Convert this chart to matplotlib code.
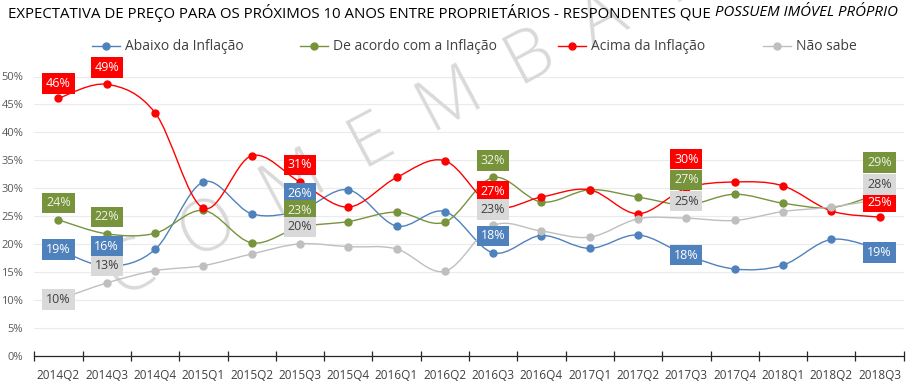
import matplotlib
matplotlib.use('Agg')
import matplotlib.pyplot as plt
from matplotlib import font_manager
from matplotlib.path import Path
from matplotlib.patches import PathPatch
from matplotlib.lines import Line2D
import numpy as np

# data (percent)
quarters = ['2014Q2', '2014Q3', '2014Q4', '2015Q1', '2015Q2', '2015Q3', '2015Q4',
            '2016Q1', '2016Q2', '2016Q3', '2016Q4', '2017Q1', '2017Q2', '2017Q3',
            '2017Q4', '2018Q1', '2018Q2', '2018Q3']
abaixo = [19, 16, 19.0, 31.1, 25.4, 26, 29.7, 23.2, 25.8, 18.4, 21.5, 19.2, 21.6, 18, 15.5, 16.2, 20.8, 19]
de_acordo = [24.3, 21.8, 21.9, 26.0, 20.2, 23, 24.0, 25.7, 23.9, 31.9, 27.5, 29.7, 28.4, 27, 28.9, 27.3, 26.5, 29]
acima = [46.1, 48.6, 43.5, 26.4, 35.8, 31.1, 26.6, 31.9, 34.9, 26.7, 28.4, 29.7, 25.4, 30.0, 31.1, 30.4, 25.9, 24.8]
nao_sabe = [10, 13.0, 15.2, 16.1, 18.2, 20.0, 19.5, 19.1, 15.1, 23.3, 22.3, 21.2, 24.5, 24.6, 24.2, 25.8, 26.6, 28]
series_names = ['Abaixo da Inflação', 'De acordo com a Inflação', 'Acima da Inflação', 'Não sabe']
labeled_idx = [0, 1, 5, 9, 13, 17]

colors = ['#4f81bd', '#77933c', '#ff0000', '#bfbfbf']
box_colors = ['#4f81bd', '#77933c', '#ff0000', '#d9d9d9']
text_colors = ['white', '#eef2e0', 'white', '#404040']
# vertical offset (px) of each data label above its point, per series and labelled quarter
label_offsets = [
    [0, 20, 17, 17, 0, -3],
    [17, 17, 17, 17, 25, 31],
    [15, 17, 17, 15, 29, 15],
    [0, 17, 17, 16, 17, 15],
]

plt.rcParams['font.family'] = ['Open Sans', 'DejaVu Sans']
installed = {f.name for f in font_manager.fontManager.ttflist}
title_font = 'Liberation Sans Narrow' if 'Liberation Sans Narrow' in installed else 'Open Sans'

W, H = 907, 384
fig = plt.figure(figsize=(W / 100, H / 100), dpi=100)
ax = fig.add_axes([34.3 / W, (H - 355.5) / H, (903.7 - 34.3) / W, (355.5 - 76.5) / H])
ax.set_xlim(-0.5, len(quarters) - 0.5)
ax.set_ylim(0, 50)


def smooth_path(xs, ys):
    # Catmull-Rom style bezier, like Excel's smoothed lines
    pts = np.column_stack([xs, ys]).astype(float)
    n = len(pts)
    verts = [pts[0]]
    codes = [Path.MOVETO]
    for i in range(n - 1):
        p0 = pts[i - 1] if i > 0 else pts[i]
        p1, p2 = pts[i], pts[i + 1]
        p3 = pts[i + 2] if i + 2 < n else pts[i + 1]
        verts += [p1 + (p2 - p0) / 6, p2 - (p3 - p1) / 6, p2]
        codes += [Path.CURVE4] * 3
    return Path(verts, codes)


x = np.arange(len(quarters))
all_series = [abaixo, de_acordo, acima, nao_sabe]
for k, vals in enumerate(all_series):
    ax.add_patch(PathPatch(smooth_path(x, vals), fill=False, ec=colors[k], lw=1.0, zorder=3))
    ax.plot(x, vals, ls='none', marker='o', ms=5, color=colors[k], zorder=4)

for k, vals in enumerate(all_series):
    for j, i in enumerate(labeled_idx):
        ax.annotate(f'{round(vals[i])}%', xy=(i, vals[i]), xytext=(0, label_offsets[k][j]),
                    textcoords='offset pixels', ha='center', va='center',
                    fontsize=9, color=text_colors[k], zorder=6 + k, annotation_clip=False,
                    bbox=dict(boxstyle='square,pad=0.3', fc=box_colors[k], ec='none'))

# axes styling
ax.set_yticks(np.arange(0, 51, 5))
ax.set_yticklabels([f'{v}%' for v in range(0, 51, 5)], fontsize=8, color='#595959')
ax.yaxis.grid(True, color='#ebebeb', lw=0.8)
ax.set_axisbelow(True)
ax.tick_params(axis='y', length=0, pad=8)
ax.set_xticks(np.arange(-0.5, len(quarters)), labels=[])
ax.set_xticks(x, labels=quarters, minor=True)
ax.tick_params(axis='x', which='major', direction='inout', length=7, width=0.9, color='#262626')
ax.tick_params(axis='x', which='minor', length=0, pad=10, labelsize=8.5, labelcolor='#404040')
for s in ['top', 'right', 'left']:
    ax.spines[s].set_visible(False)
ax.spines['bottom'].set_color('#262626')
ax.spines['bottom'].set_linewidth(0.9)

# watermark
ax.text(400 / W, 1 - 128 / H, 'C  O  M  E  M  B  A  T', transform=fig.transFigure,
        rotation=28, fontsize=52, fontweight='light', color='#d9d9d9',
        ha='center', va='center', zorder=2, clip_on=False)

# legend, one entry at a time
legend_x = [92, 300, 558, 763]
for k in range(4):
    h = Line2D([], [], color=colors[k], marker='o', ms=5, lw=1.0)
    fig.legend([h], [series_names[k]], loc='center left', bbox_to_anchor=(legend_x[k] / W, 1 - 47 / H),
               frameon=False, fontsize=10, handlelength=2.0, handletextpad=0.4,
               borderpad=0, borderaxespad=0, labelcolor='#404040')

# title: regular part + italic part, sized to span the same width as the original
title_a = 'EXPECTATIVA DE PREÇO PARA OS PRÓXIMOS 10 ANOS ENTRE PROPRIETÁRIOS - RESPONDENTES QUE '
title_b = 'POSSUEM IMÓVEL PRÓPRIO'
fs = 12
t1 = fig.text(8 / W, 1 - 13 / H, title_a, fontsize=fs, ha='left', va='center',
              color='black', family=[title_font, 'DejaVu Sans'])
t2 = fig.text(0, 1 - 13 / H, title_b, fontsize=fs, style='italic', ha='left', va='center',
              color='black', family=[title_font, 'DejaVu Sans'])
fig.canvas.draw()
total = t1.get_window_extent().width + t2.get_window_extent().width
fs = fs * 890 / total
t1.set_fontsize(fs)
t2.set_fontsize(fs)
fig.canvas.draw()
t2.set_x(t1.get_window_extent().x1 / W)

fig.savefig('out.png', dpi=100)
